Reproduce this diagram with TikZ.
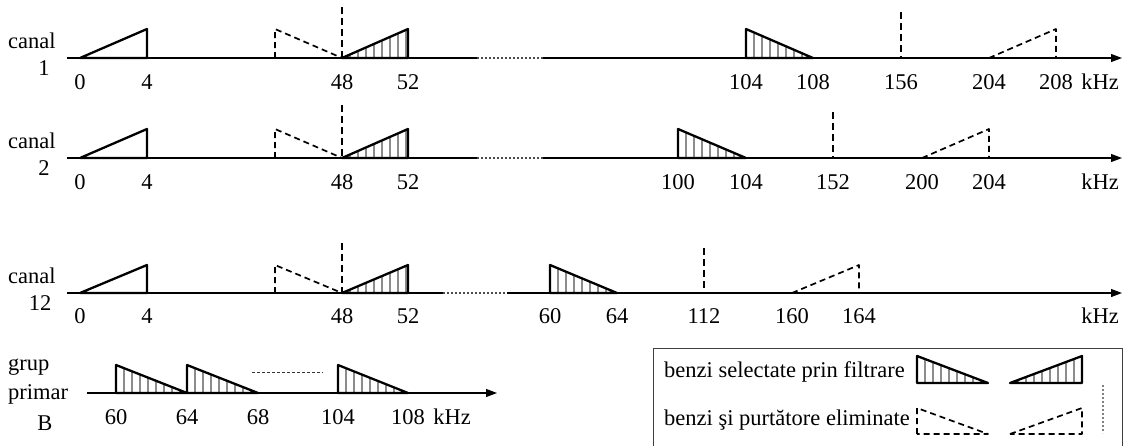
\documentclass[tikz,border=0pt]{standalone}
\usepackage{fontspec}
\setmainfont{Liberation Serif}
\usetikzlibrary{arrows.meta}
\tikzset{
  axisline/.style={line width=1.1pt, black},
  axisdots/.style={line width=1.1pt, black!70, dash pattern=on 2pt off 2pt},
  band/.style={line width=2.3pt, black, line join=round},
  cutband/.style={line width=1.7pt, black, dash pattern=on 6pt off 4pt, line join=round},
  carrier/.style={line width=1.7pt, black, dash pattern=on 7pt off 4pt},
  hatch/.style={line width=1.7pt, black!45},
  lbl/.style={font=\fontsize{22.5}{25}\selectfont, inner sep=0pt},
  tip/.style={-{Triangle[length=11pt,width=8pt]}},
  sepdots/.style={line width=1pt, black!80, dash pattern=on 3pt off 2pt},
}
\newcommand\hatchup[4]{%
  \begin{scope}\clip (#1,#3) -- (#2,#4) -- (#2,#3) -- cycle;
  \foreach \k in {1,...,9}{\draw[hatch] ({#1+\k*8},#3) -- ({#1+\k*8},#4);}
  \end{scope}
  \draw[band] (#1,#3) -- (#2,#4) -- (#2,#3) -- cycle;}
\newcommand\hatchdown[4]{%
  \begin{scope}\clip (#1,#4) -- (#1,#3) -- (#2,#3) -- cycle;
  \foreach \k in {1,...,9}{\draw[hatch] ({#1+\k*8},#3) -- ({#1+\k*8},#4);}
  \end{scope}
  \draw[band] (#1,#4) -- (#1,#3) -- (#2,#3) -- cycle;}
\newcommand\dashdown[4]{\draw[cutband] (#1,#3) -- (#1,#4) -- (#2,#3) -- cycle;}
\newcommand\dashup[4]{\draw[cutband] (#1,#3) -- (#2,#4) -- (#2,#3) -- cycle;}
\begin{document}
\begin{tikzpicture}[x=1pt, y=-1pt]
\useasboundingbox (0,0) rectangle (1130,445);

% ---------- row 1 ----------
\coordinate (r1s) at (67,58); \coordinate (r1d1) at (477,58);
\coordinate (r1d2) at (543,58); \coordinate (r1e) at (1122,58);
\draw[axisline] (r1s) -- (r1d1);
\draw[axisdots] (r1d1) -- (r1d2);
\draw[axisline,tip] (r1d2) -- (r1e);
\draw[band] (80,58) -- (147,29) -- (147,58) -- cycle;
\dashdown{275}{342}{58}{29}
\hatchup{342}{408}{58}{29}
\hatchdown{746}{813}{58}{29}
\dashup{989}{1056}{58}{29}
\draw[carrier] (342,7) -- (342,58);
\draw[carrier] (901,12) -- (901,58);
\node[lbl, anchor=west] (c1a) at (8,41) {canal};
\node[lbl] (c1b) at (44,68) {1};
\foreach \x/\t/\n in {80/0/a,147/4/b,342/48/c,408/52/d,746/104/e,813/108/f,901/156/g,989/204/h,1056/208/i,1100/kHz/j}
  \node[lbl] (r1\n) at (\x,82) {\t};

% ---------- row 2 ----------
\coordinate (r2s) at (67,158); \coordinate (r2d1) at (477,158);
\coordinate (r2d2) at (543,158); \coordinate (r2e) at (1122,158);
\draw[axisline] (r2s) -- (r2d1);
\draw[axisdots] (r2d1) -- (r2d2);
\draw[axisline,tip] (r2d2) -- (r2e);
\draw[band] (80,158) -- (147,129) -- (147,158) -- cycle;
\dashdown{275}{342}{158}{129}
\hatchup{342}{408}{158}{129}
\hatchdown{678}{746}{158}{129}
\dashup{922}{989}{158}{129}
\draw[carrier] (342,105) -- (342,158);
\draw[carrier] (833,112) -- (833,158);
\node[lbl, anchor=west] (c2a) at (8,141) {canal};
\node[lbl] (c2b) at (44,168) {2};
\foreach \x/\t/\n in {80/0/a,147/4/b,342/48/c,408/52/d,678/100/e,746/104/f,833/152/g,922/200/h,989/204/i,1100/kHz/j}
  \node[lbl] (r2\n) at (\x,182) {\t};

% ---------- row 3 ----------
\coordinate (r3s) at (67,293); \coordinate (r3d1) at (443,293);
\coordinate (r3d2) at (507,293); \coordinate (r3e) at (1122,293);
\draw[axisline] (r3s) -- (r3d1);
\draw[axisdots] (r3d1) -- (r3d2);
\draw[axisline,tip] (r3d2) -- (r3e);
\draw[band] (80,293) -- (147,265) -- (147,293) -- cycle;
\dashdown{275}{342}{293}{265}
\hatchup{342}{408}{293}{265}
\hatchdown{550}{617}{293}{265}
\dashup{792}{859}{293}{265}
\draw[carrier] (342,243) -- (342,293);
\draw[carrier] (704,248) -- (704,293);
\node[lbl, anchor=west] (c3a) at (8,276) {canal};
\node[lbl] (c3b) at (40,303) {12};
\foreach \x/\t/\n in {80/0/a,147/4/b,342/48/c,408/52/d,550/60/e,617/64/f,704/112/g,792/160/h,859/164/i,1100/kHz/j}
  \node[lbl] (r3\n) at (\x,316) {\t};

% ---------- group B ----------
\coordinate (gbs) at (87,393); \coordinate (gbe) at (497,393);
\draw[axisline,tip] (gbs) -- (gbe);
\hatchdown{116}{187}{393}{365}
\hatchdown{187}{258}{393}{365}
\hatchdown{338}{408}{393}{365}
\coordinate (gd1) at (252,372); \coordinate (gd2) at (323,372);
\draw[sepdots] (gd1) -- (gd2);
\node[lbl, anchor=west] (g1) at (8,367) {grup};
\node[lbl, anchor=west] (g2) at (8,394) {primar};
\node[lbl] (g3) at (45,423) {B};
\foreach \x/\t/\n in {116/60/a,187/64/b,258/68/c,338/104/d,408/108/e,452/kHz/f}
  \node[lbl] (gb\n) at (\x,417) {\t};

% ---------- legend ----------
\draw[line width=1pt, black!75] (653,447) -- (653,348) -- (1122,348) -- (1122,447);
\node[lbl, anchor=west] (lg1) at (664,372) {benzi selectate prin filtrare};
\node[lbl, anchor=west] (lg2) at (664,420) {benzi şi purtătore eliminate};
\hatchdown{917}{988}{383}{356}
\hatchup{1010}{1082}{383}{356}
\dashdown{917}{988}{434}{408}
\dashup{1010}{1082}{434}{408}
\draw[line width=1.2pt, black!50, dash pattern=on 2pt off 2pt] (1103,385) -- (1103,433);
\end{tikzpicture}
\end{document}
